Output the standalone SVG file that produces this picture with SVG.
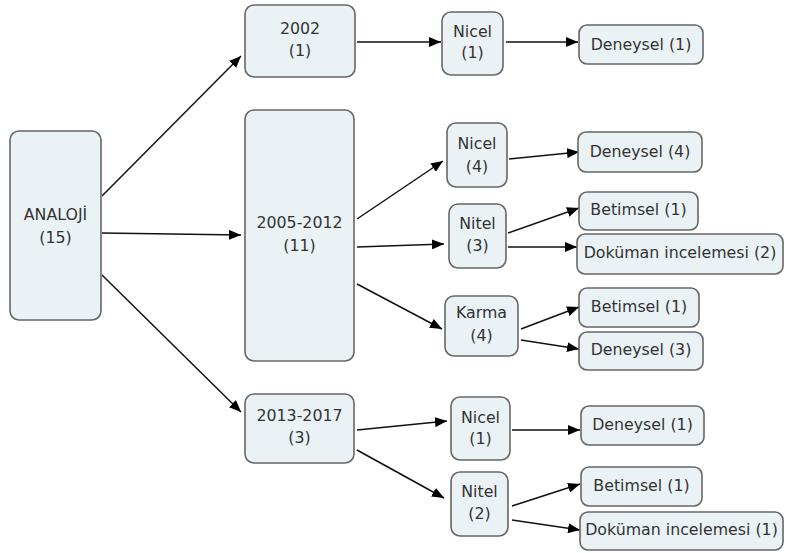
<svg xmlns="http://www.w3.org/2000/svg" width="786" height="553" viewBox="0 0 786 553">
<style>
.box{fill:#ebf2f5;stroke:#666;stroke-width:1.6}
text{font-family:"DejaVu Sans",Verdana,sans-serif;font-size:15.8px;fill:#333;text-anchor:middle}
.c line{stroke:#111;stroke-width:1.5;marker-end:url(#ah)}
</style>
<defs>
<marker id="ah" markerUnits="userSpaceOnUse" markerWidth="12" markerHeight="10" refX="12" refY="5" orient="auto">
<path d="M0,0 L12,5 L0,10 z" fill="#000"/>
</marker>
</defs>
<g class="c">
<line x1="102" y1="196" x2="241" y2="56"/>
<line x1="102" y1="233" x2="241" y2="235"/>
<line x1="102" y1="275" x2="241" y2="412"/>
<line x1="357" y1="42" x2="441" y2="42"/>
<line x1="506" y1="42" x2="578" y2="42"/>
<line x1="357" y1="219" x2="443" y2="161"/>
<line x1="357" y1="247" x2="444" y2="244"/>
<line x1="357" y1="284" x2="442" y2="329"/>
<line x1="509" y1="159" x2="579" y2="152"/>
<line x1="508" y1="233" x2="579" y2="208"/>
<line x1="508" y1="247" x2="577" y2="247"/>
<line x1="521" y1="329" x2="579" y2="307"/>
<line x1="521" y1="340" x2="579" y2="349"/>
<line x1="357" y1="430" x2="447" y2="421"/>
<line x1="357" y1="450" x2="444" y2="498"/>
<line x1="512" y1="430" x2="580" y2="430"/>
<line x1="512" y1="506" x2="580" y2="484"/>
<line x1="512" y1="520" x2="580" y2="530"/>
</g>
<g id="n_analoji"><rect class="box" x="10" y="131" width="91" height="189" rx="9"/><text x="55.5" y="220">ANALOJİ</text><text x="55.5" y="243">(15)</text></g>
<g id="n_2002"><rect class="box" x="245" y="5" width="110" height="72" rx="9"/><text x="300" y="34">2002</text><text x="300" y="56">(1)</text></g>
<g id="n_2005"><rect class="box" x="245" y="110" width="109" height="251" rx="9"/><text x="299.5" y="228">2005-2012</text><text x="299.5" y="251">(11)</text></g>
<g id="n_2013"><rect class="box" x="245" y="394" width="109" height="69" rx="9"/><text x="299.5" y="421">2013-2017</text><text x="299.5" y="443">(3)</text></g>
<g id="n_nicel1"><rect class="box" x="442" y="12" width="61" height="63" rx="9"/><text x="472.5" y="37">Nicel</text><text x="472.5" y="58">(1)</text></g>
<g id="n_deneysel1"><rect class="box" x="579" y="25" width="124" height="39" rx="8"/><text x="641" y="50">Deneysel (1)</text></g>
<g id="n_nicel4"><rect class="box" x="447" y="123" width="60" height="64" rx="9"/><text x="477" y="149">Nicel</text><text x="477" y="172">(4)</text></g>
<g id="n_deneysel4"><rect class="box" x="578" y="132" width="124" height="40" rx="8"/><text x="640" y="157">Deneysel (4)</text></g>
<g id="n_nitel3"><rect class="box" x="449" y="204" width="57" height="64" rx="9"/><text x="477.5" y="229">Nitel</text><text x="477.5" y="251">(3)</text></g>
<g id="n_betimsel1a"><rect class="box" x="579" y="192" width="119" height="38" rx="8"/><text x="638.5" y="215">Betimsel (1)</text></g>
<g id="n_dokuman2"><rect class="box" x="577" y="234" width="206" height="40" rx="8"/><text x="680" y="258">Doküman incelemesi (2)</text></g>
<g id="n_karma"><rect class="box" x="445" y="296" width="73" height="60" rx="9"/><text x="481.5" y="318">Karma</text><text x="481.5" y="341">(4)</text></g>
<g id="n_betimsel1b"><rect class="box" x="579" y="288" width="120" height="39" rx="8"/><text x="639" y="312">Betimsel (1)</text></g>
<g id="n_deneysel3"><rect class="box" x="579" y="332" width="124" height="38" rx="8"/><text x="641" y="355">Deneysel (3)</text></g>
<g id="n_nicel1b"><rect class="box" x="451" y="397" width="59" height="63" rx="9"/><text x="480.5" y="423">Nicel</text><text x="480.5" y="444">(1)</text></g>
<g id="n_deneysel1b"><rect class="box" x="581" y="406" width="123" height="39" rx="8"/><text x="642.5" y="430">Deneysel (1)</text></g>
<g id="n_nitel2"><rect class="box" x="451" y="472" width="57" height="64" rx="9"/><text x="479.5" y="497">Nitel</text><text x="479.5" y="519">(2)</text></g>
<g id="n_betimsel1c"><rect class="box" x="581" y="467" width="121" height="39" rx="8"/><text x="641.5" y="491">Betimsel (1)</text></g>
<g id="n_dokuman1"><rect class="box" x="580" y="512" width="203" height="38" rx="8"/><text x="681.5" y="535">Doküman incelemesi (1)</text></g>
</svg>
